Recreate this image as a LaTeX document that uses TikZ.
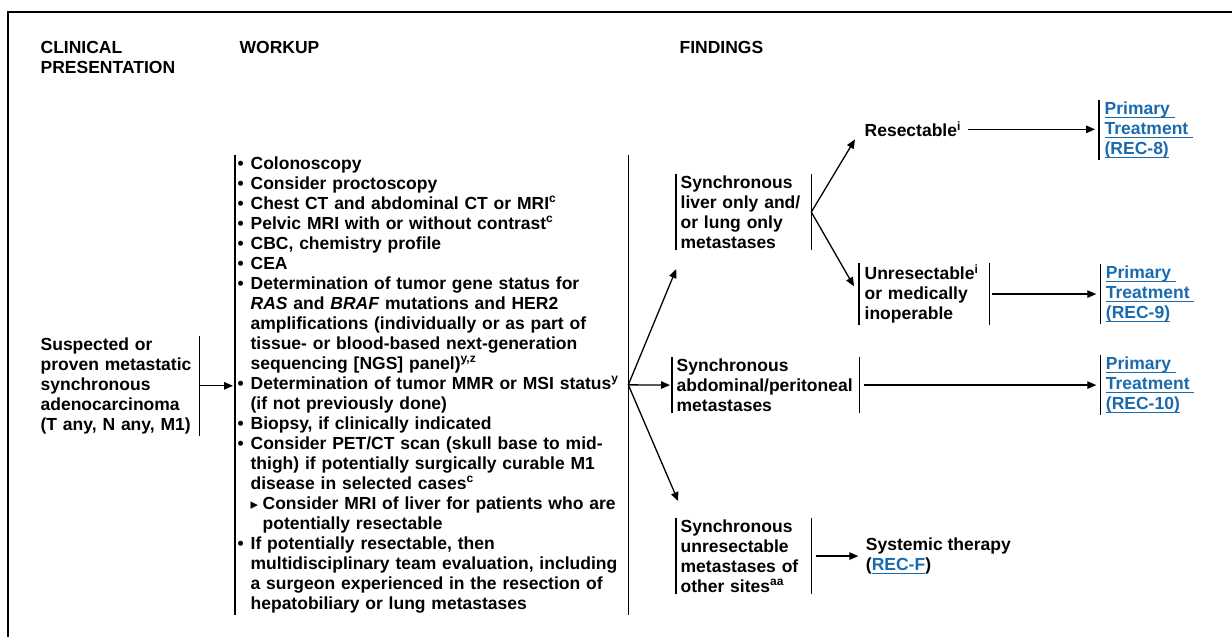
\documentclass[tikz,border=0pt]{standalone}
\usepackage{fontspec}
\setmainfont{Liberation Sans}
\newfontfamily\symfont{DejaVu Sans}
\usepackage{xcolor}
\usepackage{tikz}
\usetikzlibrary{arrows.meta,calc,positioning}

\definecolor{linkblue}{RGB}{26,106,174}
\newsavebox{\lnkbox}
\newcommand{\lnk}[1]{\sbox{\lnkbox}{\color{linkblue}#1}{\color{linkblue}\rlap{\rule[-3.5pt]{\wd\lnkbox}{1.3pt}}}\usebox{\lnkbox}}
\newcommand{\bul}{\makebox[13pt][l]{\textbullet}}
\newcommand{\bulind}{\hspace*{13pt}}
\newcommand{\subbul}{\hspace*{13pt}\makebox[12pt][l]{\fontsize{15}{15}\selectfont\symfont\char"25B8}}
\newcommand{\sups}[1]{\raisebox{6.5pt}{\fontsize{12}{12}\selectfont #1}}

\begin{document}
\begin{tikzpicture}[x=1pt,y=-1pt,line width=1.3pt,>={Triangle[length=9pt,width=7.5pt]},
                    head node/.style={font=\fontsize{17.5}{20}\selectfont\bfseries,align=left,inner sep=0pt,anchor=north west},
                    text node/.style={font=\fontsize{17.5}{20}\selectfont\bfseries,align=left,inner xsep=4pt,inner ysep=1pt,anchor=north west}]

  \useasboundingbox (0,0) rectangle (1232,637);
  \draw[line width=2.4pt] (8,637) -- (8,12) -- (1232,12);

  % column heads
  \node[head node] (h1) at (40,41) {CLINICAL\\PRESENTATION};
  \node[head node] (h2) at (239,41) {WORKUP};
  \node[head node] (h3) at (679,41) {FINDINGS};

  \node[text node,inner xsep=2pt,text width=156pt] (pres) at (38,336) {Suspected or\\proven metastatic\\synchronous\\adenocarcinoma\\(T any, N any, M1)};

  \node[text node,inner xsep=2pt,text width=388pt] (work) at (235,155) {%
    \bul Colonoscopy\\
    \bul Consider proctoscopy\\
    \bul Chest CT and abdominal CT or MRI\sups{c}\\
    \bul Pelvic MRI with or without contrast\sups{c}\\
    \bul CBC, chemistry profile\\
    \bul CEA\\
    \bul Determination of tumor gene status for\\
    \bulind\textit{RAS} and \textit{BRAF} mutations and HER2\\
    \bulind amplifications (individually or as part of\\
    \bulind tissue- or blood-based next-generation\\
    \bulind sequencing [NGS] panel)\sups{y,z}\\
    \bul Determination of tumor MMR or MSI status\sups{y}\\
    \bulind (if not previously done)\\
    \bul Biopsy, if clinically indicated\\
    \bul Consider PET/CT scan (skull base to mid-\\
    \bulind thigh) if potentially surgically curable M1\\
    \bulind disease in selected cases\sups{c}\\
    \subbul Consider MRI of liver for patients who are\\
    \bulind\hspace*{12pt}potentially resectable\\
    \bul If potentially resectable, then\\
    \bulind multidisciplinary team evaluation, including\\
    \bulind a surgeon experienced in the resection of\\
    \bulind hepatobiliary or lung metastases};

  % findings
  \node[text node,text width=126pt] (liver) at (676,174) {Synchronous\\liver only and/\\or lung only\\metastases};
  \node[text node,text width=178pt] (abd) at (672,357) {Synchronous\\abdominal/peritoneal\\metastases};
  \node[text node,text width=126pt] (other) at (676,518) {Synchronous\\unresectable\\metastases of\\other sites\sups{aa}};

  \node[head node] (resect) at (864,121) {Resectable\sups{i}};
  \node[text node,inner xsep=5pt,text width=119pt] (unres) at (859,263) {Unresectable\sups{i}\\or medically\\inoperable};

  \node[text node,inner xsep=5pt] (pt8) at (1099,100) {\lnk{Primary\ }\\\lnk{Treatment\ }\\\lnk{(REC-8)}};
  \node[text node,inner xsep=5pt,right=111pt of unres] (pt9) {\lnk{Primary\ }\\\lnk{Treatment\ }\\\lnk{(REC-9)}};
  \node[text node,inner xsep=5pt,right=241pt of abd] (pt10) {\lnk{Primary\ }\\\lnk{Treatment\ }\\\lnk{(REC-10)}};
  \node[text node,right=50pt of other] (sys) {Systemic therapy\\(\lnk{REC-F})};

  % brackets
  \draw (pres.north east) -- (pres.south east);
  \foreach \n in {work,liver,unres,abd,other}
    \draw (\n.north west) -- (\n.south west) (\n.north east) -- (\n.south east);
  \foreach \n in {pt8,pt9,pt10}
    \draw (\n.north west) -- (\n.south west);

  \path[->,shorten >=2pt]
  (pres.east) edge (pres.east -| work.west)
  (work.east) edge ($(liver.south west)+(1,17)$)
  (work.east) edge (abd.west)
  (work.east) edge ($(other.north west)+(3,-15)$)
  (liver.east) edge ($(resect.south west)+(-8,0)$)
  (liver.east) edge ($(unres.west)+(-4,-6)$)
  (resect.east) edge[shorten <=7pt,shorten >=4pt] (resect.east -| pt8.west)
  (unres.east) edge[shorten <=3pt,shorten >=4pt] (pt9.west)
  (abd.east) edge[shorten <=5pt,shorten >=4pt] (pt10.west)
  (other.east) edge[shorten <=5pt,shorten >=3pt] (sys.west);

\end{tikzpicture}
\end{document}
